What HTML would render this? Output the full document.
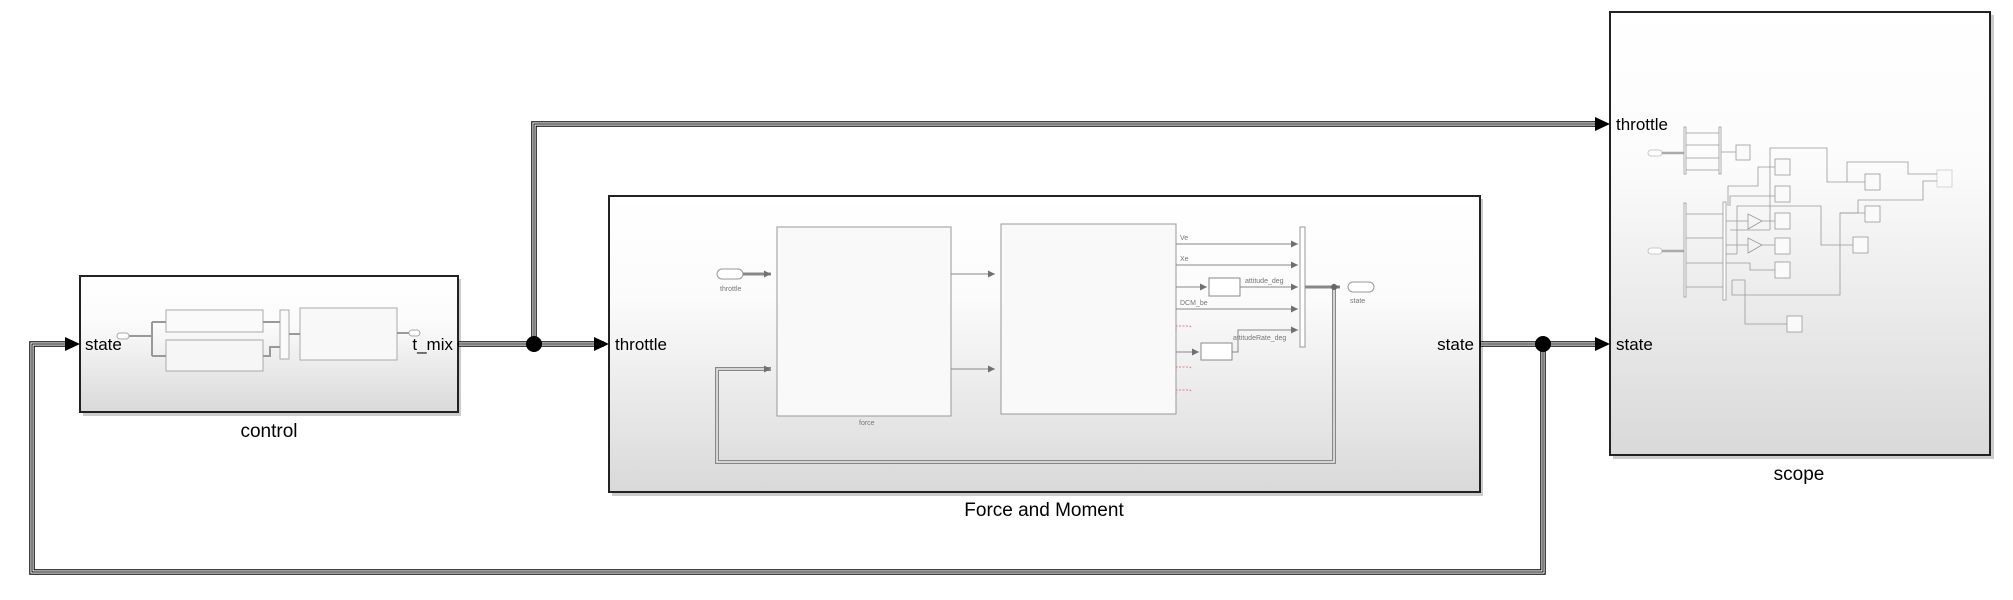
<!DOCTYPE html>
<html><head><meta charset="utf-8"><style>
html,body{margin:0;padding:0;background:#fff;}
svg{display:block;font-family:"Liberation Sans",sans-serif;}
</style></head><body>
<svg width="2013" height="600" viewBox="0 0 2013 600" xmlns="http://www.w3.org/2000/svg">
<defs>
<linearGradient id="g" x1="0" y1="0" x2="0" y2="1">
<stop offset="0" stop-color="#ffffff"/><stop offset="0.35" stop-color="#fbfbfb"/><stop offset="1" stop-color="#d9d9d9"/>
</linearGradient>
<marker id="ag" markerWidth="8" markerHeight="8" refX="7" refY="4" orient="auto" markerUnits="userSpaceOnUse"><path d="M0,0.5 L7,4 L0,7.5z" fill="#707070"/></marker>
</defs>

<rect x="83" y="279" width="378" height="137" fill="#aaa" opacity="0.6"/>
<rect x="612" y="199" width="871" height="297" fill="#aaa" opacity="0.6"/>
<rect x="1613" y="15" width="381" height="444" fill="#aaa" opacity="0.6"/>

<rect x="80" y="276" width="378" height="136" fill="url(#g)" stroke="#222" stroke-width="2"/>
<rect x="609" y="196" width="871" height="296" fill="url(#g)" stroke="#222" stroke-width="2"/>
<rect x="1610" y="12" width="380" height="443" fill="url(#g)" stroke="#222" stroke-width="2"/>

<g fill="none" stroke-linejoin="miter">
<g stroke="#000" stroke-width="5.5">
<path d="M458,344 H604"/>
<path d="M534,344 V124 H1604"/>
<path d="M1480,344 H1604"/>
<path d="M1543,344 V572 H32 V344 H74"/>
</g>
<g stroke="#fff" stroke-width="3.2">
<path d="M459,344 H604"/>
<path d="M534,344 V124 H1604"/>
<path d="M1481,344 H1604"/>
<path d="M1543,344 V572 H32 V344 H74"/>
</g>
<g stroke="#000" stroke-width="1">
<path d="M459,344 H604"/>
<path d="M534,344 V124 H1604"/>
<path d="M1481,344 H1604"/>
<path d="M1543,344 V572 H32 V344 H74"/>
</g>
</g>
<path d="M65,337 L80,344 L65,351z" fill="#000"/>
<path d="M594,337 L609,344 L594,351z" fill="#000"/>
<path d="M1595,117 L1610,124 L1595,131z" fill="#000"/>
<path d="M1595,337 L1610,344 L1595,351z" fill="#000"/>
<circle cx="534" cy="344" r="8" fill="#000"/>
<circle cx="1543" cy="344" r="8" fill="#000"/>

<g font-size="17" fill="#000">
<text x="85" y="350">state</text>
<text x="453" y="350" text-anchor="end">t_mix</text>
<text x="615" y="350">throttle</text>
<text x="1474" y="350" text-anchor="end">state</text>
<text x="1616" y="130">throttle</text>
<text x="1616" y="350">state</text>
</g>
<g font-size="19" fill="#000" text-anchor="middle">
<text x="269" y="437">control</text>
<text x="1044" y="516">Force and Moment</text>
<text x="1799" y="480">scope</text>
</g>

<g fill="none" stroke="#aaa" stroke-width="1">
<rect x="117" y="333" width="12" height="6" rx="3" fill="#fff"/>
<rect x="166" y="310" width="97" height="22" fill="#fafafa"/>
<rect x="166" y="340" width="97" height="31" fill="#f6f6f6"/>
<rect x="280" y="310" width="9" height="49" fill="#fafafa"/>
<rect x="300" y="308" width="97" height="52" fill="#f8f8f8"/>
<rect x="409" y="330" width="11" height="6" rx="3" fill="#fff"/>
<g stroke-width="2" stroke="#999">
<path d="M129,336 H152 M152,322 V356 M152,322 H166 M152,356 H166 M263,322 H280 M263,356 H270 V347 H280 M289,334 H300 M397,333 H409"/>
</g>
</g>

<g fill="none" stroke="#888" stroke-width="1">
<rect x="717" y="269" width="26" height="10" rx="5" fill="#fff" stroke="#999"/>
<path d="M743,274 H771" stroke="#888" stroke-width="3" marker-end="url(#ag)"/>
<rect x="777" y="227" width="174" height="189" fill="#f9f9f9" stroke="#999"/>
<rect x="1001" y="224" width="175" height="190" fill="#f9f9f9" stroke="#999"/>
<path d="M951,274 H995" marker-end="url(#ag)"/>
<path d="M951,369 H995" marker-end="url(#ag)"/>
<path d="M1176,244 H1298" marker-end="url(#ag)"/>
<path d="M1176,265 H1298" marker-end="url(#ag)"/>
<path d="M1176,287 H1207" marker-end="url(#ag)"/>
<rect x="1209" y="278" width="31" height="18" fill="#fff" stroke="#888"/>
<path d="M1240,287 H1298" marker-end="url(#ag)"/>
<path d="M1176,309 H1298" marker-end="url(#ag)"/>
<path d="M1176,352 H1199" marker-end="url(#ag)"/>
<rect x="1201" y="343" width="31" height="17" fill="#fff" stroke="#888"/>
<path d="M1232,352 H1238 V330 H1298" marker-end="url(#ag)"/>
<rect x="1300" y="227" width="5" height="120" fill="#fff" stroke="#999"/>
<path d="M1305,287 H1340" stroke="#888" stroke-width="3" marker-end="url(#ag)"/>
<rect x="1348" y="282" width="26" height="10" rx="5" fill="#fff" stroke="#999"/>
<path d="M1334,287 V462 H717 V369 H771" stroke="#888" stroke-width="4"/>
<path d="M1334,287 V462 H717 V369 H771" stroke="#eee" stroke-width="1.5"/>
<path d="M764,369 H771" marker-end="url(#ag)"/>
<circle cx="1334" cy="287" r="3" fill="#666" stroke="none"/>
</g>
<g fill="none" stroke="#e06060" stroke-width="0.8" stroke-dasharray="2,1.5">
<path d="M1176,330 V326 H1190 L1192,328"/><path d="M1176,371 V367 H1190 L1192,369"/><path d="M1176,394 V390 H1190 L1192,392"/>
</g>
<g font-size="7" fill="#777">
<text x="720" y="291">throttle</text>
<text x="1350" y="303">state</text>
<text x="859" y="425">force</text>
<text x="1180" y="240">Ve</text>
<text x="1180" y="261">Xe</text>
<text x="1245" y="283">attitude_deg</text>
<text x="1180" y="305">DCM_be</text>
<text x="1233" y="340">attitudeRate_deg</text>
</g>

<g fill="none" stroke="#999" stroke-width="0.8">
<rect x="1648" y="150" width="14" height="6" rx="3" fill="#fff" stroke="#bbb"/>
<path d="M1662,153 H1685" stroke="#aaa" stroke-width="2.5"/>
<rect x="1684" y="127" width="2" height="47" fill="#fff"/>
<rect x="1719" y="127" width="2" height="47" fill="#fff"/>
<path d="M1686,133 H1719 M1686,145 H1719 M1686,158 H1719 M1686,170 H1719 M1721,152 H1736"/>
<rect x="1736" y="145" width="14" height="15" fill="#fafafa"/>
<rect x="1648" y="248" width="14" height="6" rx="3" fill="#fff" stroke="#bbb"/>
<path d="M1662,251 H1685" stroke="#aaa" stroke-width="2.5"/>
<rect x="1684" y="203" width="2" height="94" fill="#fff"/>
<rect x="1723" y="202" width="3" height="98" fill="#fff"/>
<path d="M1686,214 H1723 M1686,238 H1723 M1686,263 H1723 M1686,287 H1723"/>
<rect x="1775" y="159" width="15" height="16" fill="#fafafa"/>
<rect x="1775" y="186" width="15" height="16" fill="#fafafa"/>
<rect x="1775" y="213" width="15" height="16" fill="#fafafa"/>
<rect x="1775" y="238" width="15" height="16" fill="#fafafa"/>
<rect x="1775" y="262" width="15" height="16" fill="#fafafa"/>
<rect x="1865" y="174" width="15" height="16" fill="#fafafa"/>
<rect x="1865" y="206" width="15" height="16" fill="#fafafa"/>
<rect x="1853" y="237" width="15" height="16" fill="#fafafa"/>
<rect x="1937" y="170" width="15" height="17" fill="#fafafa" stroke="#ccc"/>
<rect x="1787" y="316" width="15" height="16" fill="#fafafa"/>
<path d="M1748,214 L1762,221 L1748,229z M1748,238 L1762,245 L1748,253z"/>
<path d="M1726,221 H1748 M1762,221 H1775 M1726,245 H1748 M1762,245 H1775"/>
<path d="M1728,206 V186 H1758 V167 H1775"/>
<path d="M1730,206 V196 H1775"/>
<path d="M1770,230 V148 H1827 V182 H1865"/>
<path d="M1730,230 H1770"/>
<path d="M1737,254 V206 H1821 V245 H1853"/>
<path d="M1726,254 H1737"/>
<path d="M1726,263 H1750 V270 H1775"/>
<path d="M1732,280 V295 H1840 V213 H1865"/>
<path d="M1840,213 H1858 V200 H1923 V181 H1937"/>
<path d="M1847,182 V162 H1908 V174 H1937"/>
<path d="M1732,280 H1745 V324 H1787"/>
</g>
</svg>
</body></html>
